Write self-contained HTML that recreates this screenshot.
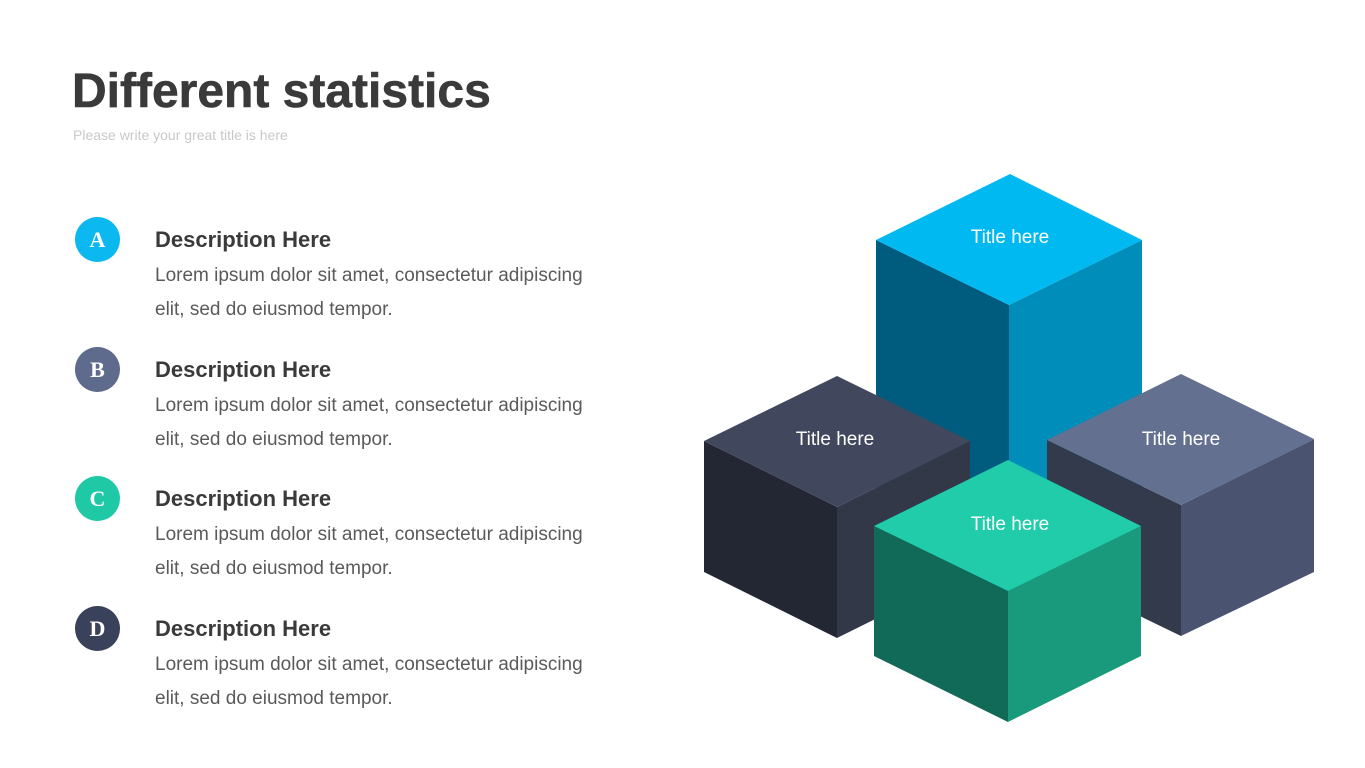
<!DOCTYPE html>
<html><head><meta charset="utf-8"><style>
body{margin:0;width:1365px;height:768px;background:#fff;position:relative;overflow:hidden;font-family:"Liberation Sans",sans-serif;}
.t{position:absolute;left:72px;top:64px;font-size:48px;font-weight:900;color:#3a3a3a;letter-spacing:0px;-webkit-text-stroke:0.6px #3a3a3a;}
.s{position:absolute;left:73px;top:127px;font-size:14px;color:#c8c8c8;}
.c{position:absolute;left:75px;width:45px;height:45px;border-radius:50%;color:#fff;font-family:"Liberation Serif",serif;font-weight:bold;font-size:22px;text-align:center;line-height:45px;}
.h{position:absolute;left:155px;font-size:22px;font-weight:bold;color:#3a3a3a;}
.b{position:absolute;left:155px;font-size:19px;color:#5a5a5a;line-height:34px;}
</style></head><body>
<div class="t">Different statistics</div>
<div class="s">Please write your great title is here</div>

<div class="c" style="top:217px;background:#0bb8f0">A</div>
<div class="h" style="top:227px">Description Here</div>
<div class="b" style="top:259px">Lorem ipsum dolor sit amet, consectetur adipiscing<br>elit, sed do eiusmod tempor.</div>

<div class="c" style="top:347px;background:#5f6b8d">B</div>
<div class="h" style="top:357px">Description Here</div>
<div class="b" style="top:389px">Lorem ipsum dolor sit amet, consectetur adipiscing<br>elit, sed do eiusmod tempor.</div>

<div class="c" style="top:476px;background:#20c9a6">C</div>
<div class="h" style="top:486px">Description Here</div>
<div class="b" style="top:518px">Lorem ipsum dolor sit amet, consectetur adipiscing<br>elit, sed do eiusmod tempor.</div>

<div class="c" style="top:606px;background:#3a415a">D</div>
<div class="h" style="top:616px">Description Here</div>
<div class="b" style="top:648px">Lorem ipsum dolor sit amet, consectetur adipiscing<br>elit, sed do eiusmod tempor.</div>

<svg style="position:absolute;left:0;top:0" width="1365" height="768">
<g>
<polygon points="876,240 1009,305 1009,600 876,540" fill="#005c7e"/>
<polygon points="1009,305 1142,240 1142,540 1009,600" fill="#008dba"/>
<polygon points="1010,174 1142,240 1009,305 876,240" fill="#00b9f1"/>
</g>
<g>
<polygon points="704,441 837,507 837,638 704,572" fill="#232733"/>
<polygon points="837,507 970,441 970,572 837,638" fill="#333849"/>
<polygon points="837,376 970,441 837,507 704,441" fill="#41485e"/>
</g>
<g>
<polygon points="1047,440 1181,505 1181,636 1047,571" fill="#333a4b"/>
<polygon points="1181,505 1314,439 1314,572 1181,636" fill="#4a5470"/>
<polygon points="1181,374 1314,439 1181,505 1047,440" fill="#647090"/>
</g>
<g>
<polygon points="874,526 1008,591 1008,722 874,656" fill="#106a57"/>
<polygon points="1008,591 1141,526 1141,656 1008,722" fill="#1a9a7c"/>
<polygon points="1008,460 1141,526 1008,591 874,526" fill="#20ccaa"/>
</g>
<g font-family="Liberation Sans, sans-serif" font-size="19" fill="#fff" text-anchor="middle">
<text x="1010" y="243">Title here</text>
<text x="835" y="445">Title here</text>
<text x="1181" y="445">Title here</text>
<text x="1010" y="530">Title here</text>
</g>
</svg>
</body></html>
